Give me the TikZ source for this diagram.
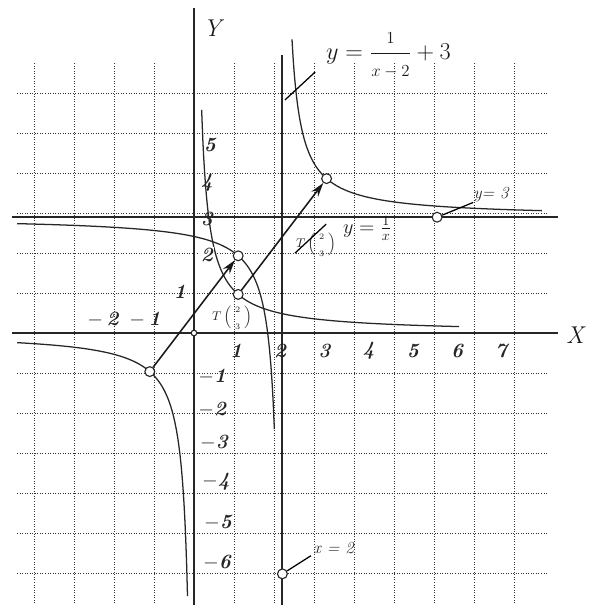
\documentclass[tikz,border=0pt]{standalone}
\usepackage{tikz}
\usetikzlibrary{arrows.meta, positioning, calc}
\usepackage{amsmath}

\begin{document}
\begin{tikzpicture}[
  x=1.105cm, y=0.965cm,
  axis/.style={line width=1.6pt, black!85},
  asym/.style={line width=1.4pt, black!85},
  curve/.style={line width=0.9pt, black!85, smooth},
  shiftarrow/.style={-{Stealth[length=10pt, width=6pt]}, line width=1.1pt, black!90},
  dot/.style={circle, draw=black!85, fill=white, line width=0.8pt, inner sep=0pt, minimum size=7pt},
  tick/.style={font=\Large\bfseries\itshape, inner sep=0pt, text=black!85},
  lbl/.style={inner sep=0pt, font=\Large, text=black!90},
  small/.style={inner sep=0pt, font=\large\itshape, text=black!85},
  pointer/.style={line width=0.9pt, black},
]
  \useasboundingbox (-4.389,-7.124) rectangle (9.140,8.627);

  % grid
  \draw[line width=0.7pt, black!80, dash pattern=on 0.7pt off 1.1pt] (-4,-7) grid (8,7);

  % axes and asymptotes
  \draw[axis] (-4.12,0) -- (8.235,0);
  \draw[axis] (0,-7.05) -- (0,8.42);
  \draw[asym] (-4.12,3) -- (8.235,3);
  \draw[asym] (2,-7.05) -- (2,7.2);
  \node[lbl, font=\LARGE\itshape] (ylab) at (0.41,7.90) {Y};
  \node[lbl, font=\LARGE\itshape] (xlab) at (8.62,-0.05) {X};

  % y = 1/x
  \draw[curve] plot[domain=0.173:6, samples=200] (\x,{1/\x});
  \draw[curve] plot[domain=-4:-0.145, samples=200] (\x,{1/\x});
  % y = 1/(x-2) + 3
  \draw[curve] plot[domain=2.217:7.87, samples=200] (\x,{1/(\x-2)+3});
  \draw[curve] plot[domain=-4:1.82, samples=200] (\x,{1/(\x-2)+3});

  % tick labels
  \foreach \k in {1,...,7}
    \node[tick] (tx\k) at (\k-0.05,-0.46) {\k};
  \node[tick] (txm2) at (-2.06,0.34) {$-$\,2};
  \node[tick] (txm1) at (-1.11,0.34) {$-$\,1};
  \foreach \k/\px/\py in {5/0.36/4.87, 4/0.29/3.89, 3/0.29/2.95, 1/-0.32/1.06}
    \node[tick] (ty\k) at (\px,\py) {\k};
  \node[tick, fill=white, inner sep=1pt] (ty2) at (0.29,2.02) {2};
  \foreach \k/\px/\py in {1/0.41/-1.14, 2/0.41/-1.99, 3/0.45/-2.85, 4/0.50/-3.86, 5/0.54/-4.90, 6/0.52/-5.96}
    \node[tick] (tym\k) at (\px,\py) {$-$\k};

  % points
  \node[dot, minimum size=4pt] (o) at (0,0) {};
  \node[dot] (p1) at (-1,-1) {};
  \node[dot] (q1) at (1,2) {};
  \node[dot] (p2) at (1,1) {};
  \node[dot] (q2) at (3,4) {};
  \node[dot] (a3) at (5.5,3) {};
  \node[dot] (a2) at (2,-6.24) {};

  % translation by T
  \draw[shiftarrow] (p1) -- (q1);
  \draw[shiftarrow] (p2) -- (q2);
  \node[small, font=\small] (t1) at (0.86,0.39)
    {$T\,\Bigl(\,\genfrac{}{}{0pt}{0}{\scriptstyle 2}{\scriptstyle 3}\,\Bigr)$};
  \node[small, font=\small] (t2) at (2.76,2.28)
    {$T\,\Bigl(\,\genfrac{}{}{0pt}{0}{\scriptstyle 2}{\scriptstyle 3}\,\Bigr)$};

  % formulas
  \node[lbl, font=\LARGE] (f2) at (4.40,7.2)
    {$y=\dfrac{\mbox{\large$1$}}{\mbox{\large$x-2$}}+3$};
  \node[lbl] (f1) at (3.92,2.72) {$y=\frac{1}{x}$};
  \node[small] (l3) at (6.72,3.58) {y= 3};
  \node[small] (l2) at (3.16,-5.57) {x = 2};

  \coordinate (c1) at (2.06,6.04);
  \coordinate (c2) at (2.74,6.76);
  \coordinate (c3) at (2.285,2.07);
  \coordinate (c4) at (2.99,2.82);
  \draw[pointer] (c1) -- (c2);
  \draw[pointer] (c3) -- (c4);
  \draw[pointer] (a3) -- (l3.south west);
  \draw[pointer] (a2) -- ($(l2.west)+(-0.05,-0.2)$);
\end{tikzpicture}
\end{document}
